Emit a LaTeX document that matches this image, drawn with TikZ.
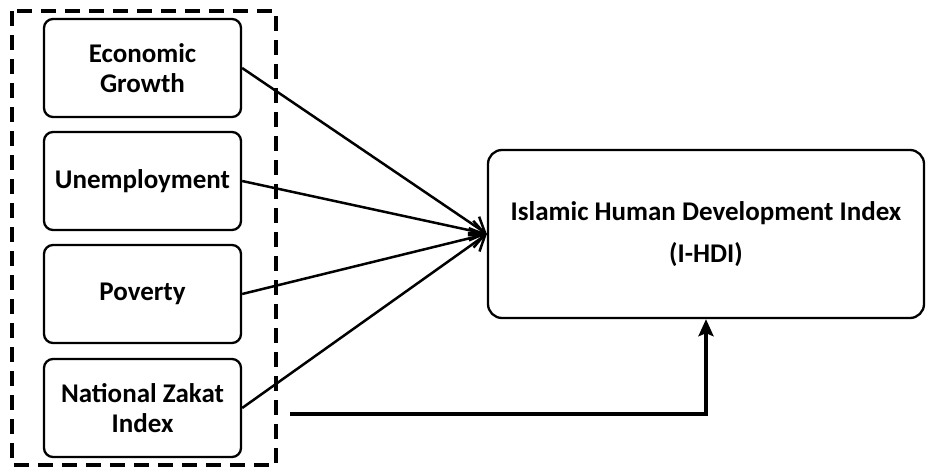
\documentclass[tikz,border=0pt]{standalone}
\usepackage{fontspec}
\setmainfont{Carlito}
\usetikzlibrary{arrows.meta}

\begin{document}
\begin{tikzpicture}[x=1pt,y=-1pt,line width=2.3pt,
  factor/.style={draw,rounded corners=9pt,minimum width=197pt,minimum height=98pt,inner sep=0pt,align=center,font=\fontsize{27}{30}\selectfont\bfseries},
  link/.style={line width=2.5pt,-{Straight Barb[length=14pt,width=20pt,line width=2.5pt]}}]
\path[use as bounding box] (0,0) rectangle (926,468);
\draw[line width=3.2pt,dash pattern=on 15pt off 9pt] (12,11) rectangle (276,465);
\node[factor] (growth) at (142.5,68) {Economic\\Growth};
\node[factor] (unemp) at (142.5,181) {Unemployment};
\node[factor] (pov) at (142.5,294) {Poverty};
\node[factor] (zakat) at (142.5,408) {National Zakat\\Index};
\node[factor,minimum width=436pt,minimum height=168pt,rounded corners=14pt,font=\fontsize{27}{42}\selectfont\bfseries] (ihdi) at (706,234) {Islamic Human Development Index\\(I-HDI)};
\coordinate (zstart) at (290,414);
\draw[link] (growth.east) -- (ihdi.west);
\draw[link] (unemp.east) -- (ihdi.west);
\draw[link] (pov.east) -- (ihdi.west);
\draw[link] (zakat.east) -- (ihdi.west);
\draw[line width=3.8pt,-{Stealth[length=17pt,width=15pt,inset=3pt]}] (zstart) -| (ihdi.south);
\end{tikzpicture}
\end{document}
